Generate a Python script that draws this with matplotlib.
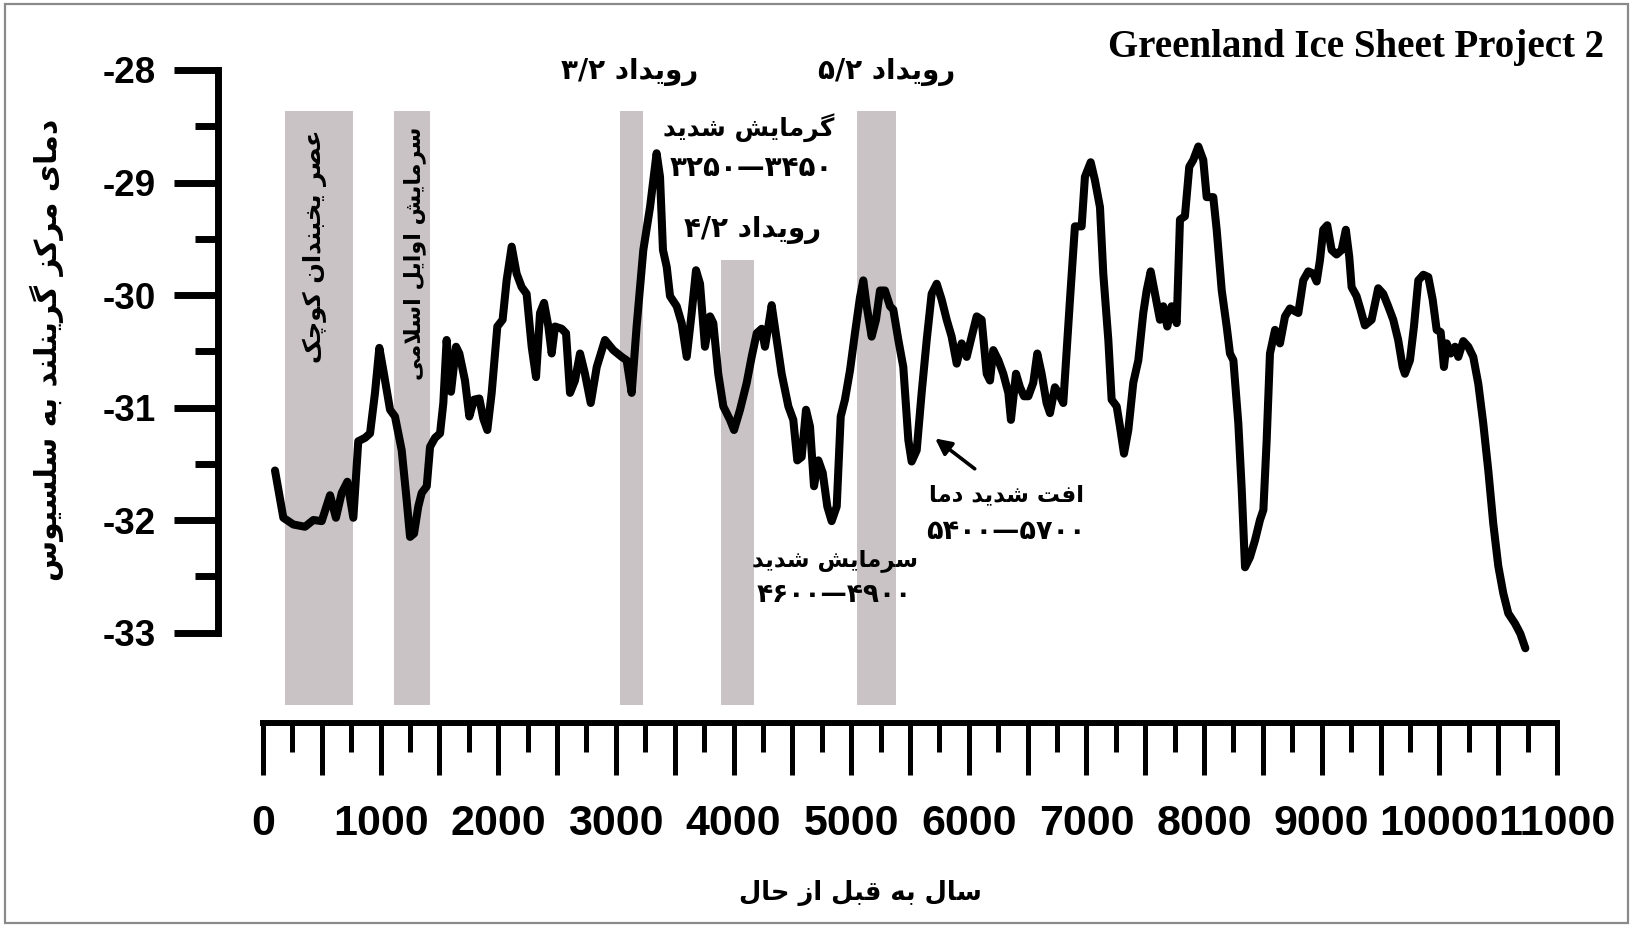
import matplotlib
matplotlib.use("Agg")
import matplotlib.pyplot as plt
from matplotlib.patches import Rectangle

# ---- data (years before present, deg C) ----
years = [102, 173, 258, 357, 428, 499, 570, 620, 669, 717, 768, 810, 867, 910,
         952, 989, 1023, 1080, 1122, 1179, 1221, 1250, 1284, 1320, 1349, 1392,
         1420, 1462, 1505, 1533, 1561, 1598, 1641, 1669, 1717, 1754, 1794, 1839,
         1873, 1907, 1944, 1992, 2037, 2071, 2114, 2156, 2199, 2241, 2284, 2321,
         2355, 2389, 2426, 2454, 2482, 2539, 2576, 2610, 2652, 2695, 2737, 2786,
         2837, 2907, 2978, 3049, 3091, 3134, 3176, 3233, 3290, 3346, 3375, 3400,
         3432, 3460, 3517, 3559, 3602, 3644, 3681, 3715, 3757, 3800, 3828, 3870,
         3913, 3970, 4004, 4055, 4112, 4154, 4197, 4239, 4267, 4296, 4324, 4367,
         4409, 4466, 4508, 4542, 4579, 4616, 4650, 4684, 4721, 4758, 4797, 4834,
         4877, 4911, 4947, 4990, 5032, 5075, 5103, 5132, 5174, 5211, 5245, 5287,
         5330, 5358, 5401, 5443, 5486, 5514, 5557, 5599, 5642, 5684, 5727, 5769,
         5812, 5854, 5897, 5939, 5982, 6024, 6067, 6109, 6152, 6180, 6208, 6251,
         6293, 6336, 6358, 6401, 6435, 6469, 6506, 6548, 6582, 6619, 6661, 6690,
         6732, 6761, 6803, 6860, 6902, 6959, 6987, 7036, 7072, 7115, 7143, 7186,
         7214, 7257, 7285, 7319, 7356, 7398, 7441, 7483, 7512, 7546, 7583, 7625,
         7653, 7687, 7724, 7767, 7795, 7837, 7874, 7908, 7951, 7993, 8022, 8078,
         8107, 8150, 8192, 8220, 8249, 8291, 8320, 8348, 8390, 8433, 8475, 8504,
         8532, 8560, 8603, 8645, 8688, 8730, 8801, 8843, 8886, 8928, 8957, 8985,
         9013, 9047, 9084, 9126, 9169, 9205, 9234, 9254, 9296, 9330, 9367, 9424,
         9480, 9523, 9565, 9608, 9650, 9688, 9707, 9750, 9784, 9821, 9864, 9906,
         9943, 9977, 10011, 10039, 10062, 10096, 10133, 10161, 10203, 10246,
         10288, 10331, 10373, 10416, 10458, 10501, 10543, 10586, 10643, 10688,
         10731]
temps = [-31.56, -31.98, -32.04, -32.06, -32.00, -32.01, -31.78, -31.98, -31.76,
         -31.66, -31.98, -31.30, -31.27, -31.23, -30.87, -30.47, -30.67, -31.02,
         -31.08, -31.38, -31.82, -32.15, -32.12, -31.88, -31.76, -31.70, -31.35,
         -31.27, -31.23, -30.96, -30.40, -30.86, -30.46, -30.52, -30.76, -31.08,
         -30.93, -30.92, -31.10, -31.20, -30.87, -30.28, -30.22, -29.87, -29.57,
         -29.81, -29.93, -29.99, -30.46, -30.73, -30.16, -30.07, -30.28, -30.52,
         -30.28, -30.30, -30.34, -30.87, -30.76, -30.52, -30.70, -30.96, -30.64,
         -30.40, -30.49, -30.55, -30.58, -30.87, -30.28, -29.60, -29.22, -28.74,
         -28.95, -29.60, -29.75, -30.01, -30.10, -30.25, -30.55, -30.16, -29.78,
         -29.90, -30.46, -30.19, -30.25, -30.70, -30.99, -31.11, -31.20, -31.02,
         -30.78, -30.55, -30.34, -30.30, -30.46, -30.28, -30.09, -30.40, -30.70,
         -30.99, -31.11, -31.47, -31.44, -31.02, -31.17, -31.70, -31.47, -31.58,
         -31.88, -32.01, -31.88, -31.08, -30.93, -30.67, -30.34, -30.02, -29.87,
         -30.10, -30.37, -30.22, -29.96, -29.96, -30.10, -30.13, -30.40, -30.64,
         -31.29, -31.48, -31.38, -30.87, -30.40, -29.99, -29.90, -30.04, -30.22,
         -30.37, -30.61, -30.43, -30.55, -30.37, -30.19, -30.22, -30.70, -30.76,
         -30.49, -30.58, -30.70, -30.87, -31.11, -30.70, -30.82, -30.90, -30.90,
         -30.78, -30.52, -30.70, -30.96, -31.05, -30.82, -30.87, -30.96, -30.04,
         -29.39, -29.39, -28.95, -28.82, -28.98, -29.22, -29.81, -30.40, -30.93,
         -30.99, -31.17, -31.41, -31.20, -30.78, -30.58, -30.16, -29.96, -29.79,
         -29.99, -30.22, -30.10, -30.28, -30.10, -30.25, -29.33, -29.30, -28.86,
         -28.80, -28.68, -28.80, -29.13, -29.13, -29.42, -29.96, -30.28, -30.52,
         -30.58, -31.14, -31.73, -32.42, -32.33, -32.18, -32.00, -31.91, -31.29,
         -30.52, -30.31, -30.43, -30.19, -30.12, -30.16, -29.87, -29.79, -29.81,
         -29.88, -29.69, -29.42, -29.38, -29.60, -29.64, -29.60, -29.42, -29.66,
         -29.93, -30.01, -30.13, -30.27, -30.22, -29.94, -29.99, -30.10, -30.22,
         -30.40, -30.64, -30.70, -30.58, -30.28, -29.87, -29.82, -29.84, -30.04,
         -30.31, -30.33, -30.64, -30.43, -30.52, -30.46, -30.55, -30.41, -30.46,
         -30.55, -30.79, -31.14, -31.56, -32.03, -32.41, -32.65, -32.83, -32.92,
         -33.01, -33.14]

# shaded climate events (start, end, top temperature)
band_start = [187, 1114, 3035, 3893, 5049]
band_end = [765, 1420, 3230, 4174, 5381]
band_top = [-28.36, -28.36, -28.36, -29.69, -28.36]
BAND_BOTTOM = -33.64

xtick_pos = list(range(0, 11001, 500))
xtick_labels = [str(v) if v % 1000 == 0 else "" for v in xtick_pos]
ytick_pos = [-33, -32, -31, -30, -29, -28]
ytick_labels = ["-33", "-32", "-31", "-30", "-29", "-28"]

TITLE = "Greenland Ice Sheet Project 2"
YLABEL = "دمای مرکز گرینلند به سلسیوس"
XLABEL = "سال به قبل از حال"

# ---- tiny Persian shaper: matplotlib draws glyphs left to right with no joining ----
FORMS = {
    "ا": ("\uFE8D", "\uFE8E", None, None),
    "ب": ("\uFE8F", "\uFE90", "\uFE91", "\uFE92"),
    "ت": ("\uFE95", "\uFE96", "\uFE97", "\uFE98"),
    "ح": ("\uFEA1", "\uFEA2", "\uFEA3", "\uFEA4"),
    "خ": ("\uFEA5", "\uFEA6", "\uFEA7", "\uFEA8"),
    "د": ("\uFEA9", "\uFEAA", None, None),
    "ر": ("\uFEAD", "\uFEAE", None, None),
    "ز": ("\uFEAF", "\uFEB0", None, None),
    "س": ("\uFEB1", "\uFEB2", "\uFEB3", "\uFEB4"),
    "ش": ("\uFEB5", "\uFEB6", "\uFEB7", "\uFEB8"),
    "ص": ("\uFEB9", "\uFEBA", "\uFEBB", "\uFEBC"),
    "ع": ("\uFEC9", "\uFECA", "\uFECB", "\uFECC"),
    "ف": ("\uFED1", "\uFED2", "\uFED3", "\uFED4"),
    "ق": ("\uFED5", "\uFED6", "\uFED7", "\uFED8"),
    "ل": ("\uFEDD", "\uFEDE", "\uFEDF", "\uFEE0"),
    "م": ("\uFEE1", "\uFEE2", "\uFEE3", "\uFEE4"),
    "ن": ("\uFEE5", "\uFEE6", "\uFEE7", "\uFEE8"),
    "ه": ("\uFEE9", "\uFEEA", "\uFEEB", "\uFEEC"),
    "و": ("\uFEED", "\uFEEE", None, None),
    "ی": ("\uFBFC", "\uFBFD", "\uFBFE", "\uFBFF"),
    "ک": ("\uFB8E", "\uFB8F", "\uFB90", "\uFB91"),
    "گ": ("\uFB92", "\uFB93", "\uFB94", "\uFB95"),
    "چ": ("\uFB7A", "\uFB7B", "\uFB7C", "\uFB7D"),
}


def fa(text):
    out = []
    i = 0
    while i < len(text):
        c = text[i]
        if c not in FORMS:
            out.append(c)
            i += 1
            continue
        prev = text[i - 1] if i > 0 else None
        joins_prev = prev in FORMS and FORMS[prev][2] is not None
        if c == "ل" and i + 1 < len(text) and text[i + 1] == "ا":
            out.append("\uFEFC" if joins_prev else "\uFEFB")
            i += 2
            continue
        nxt = text[i + 1] if i + 1 < len(text) else None
        joins_next = FORMS[c][2] is not None and nxt in FORMS
        iso, fin, ini, med = FORMS[c]
        if joins_prev and joins_next:
            out.append(med)
        elif joins_prev:
            out.append(fin)
        elif joins_next:
            out.append(ini)
        else:
            out.append(iso)
        i += 1
    return "".join(reversed(out))


FA_FONT = ["DejaVu Sans"]
NUM_FONT = ["Liberation Sans", "DejaVu Sans"]

fig = plt.figure(figsize=(16.33, 9.27), dpi=100)
fig.patch.set_facecolor("white")

# axes box: x spans from the y-spine (-382.5 yr) to 11000 yr, y from -33.80 to -28
ax = fig.add_axes([218 / 1633, 204 / 927, 1339 / 1633, 653 / 927])
ax.set_xlim(-382.5, 11000)
ax.set_ylim(-33.8044, -28)
ax.patch.set_alpha(0)

for s, e, t in zip(band_start, band_end, band_top):
    ax.fill_between([s, e], BAND_BOTTOM, t, color="#c9c3c5", lw=0, zorder=1)

ax.plot(years, temps, color="black", lw=5.8, solid_joinstyle="round",
        solid_capstyle="round", zorder=3)

# axes styling
for side in ("top", "right"):
    ax.spines[side].set_visible(False)
ax.spines["left"].set_bounds(-33, -28)
ax.spines["left"].set_linewidth(5)
ax.spines["bottom"].set_bounds(0, 11000)
ax.spines["bottom"].set_linewidth(4.3)

ax.set_yticks(ytick_pos)
ax.set_yticklabels(ytick_labels, fontsize=26.5, fontweight="bold", family=NUM_FONT)
ax.set_yticks([-32.5, -31.5, -30.5, -29.5, -28.5], minor=True)
ax.tick_params(axis="y", which="major", direction="out", length=32, width=5, pad=13)
ax.tick_params(axis="y", which="minor", direction="out", length=16.5, width=5)

ax.set_xticks(xtick_pos)
ax.set_xticklabels(xtick_labels, fontsize=31, fontweight="bold", family=NUM_FONT)
ax.set_xticks(list(range(250, 11000, 500)), minor=True)
ax.tick_params(axis="x", which="major", direction="out", length=37.5, width=3.6, pad=21)
ax.tick_params(axis="x", which="minor", direction="out", length=21, width=3.6)

# event labels
ann = dict(ha="center", va="center", fontweight="bold", family=FA_FONT, zorder=4)
ax.text(3120, -28.02, "۳/۲ " + fa("رویداد"), fontsize=20, **ann)
ax.text(5300, -28.02, "۵/۲ " + fa("رویداد"), fontsize=20, **ann)
ax.text(4131, -28.51, fa("گرمایش شدید"), fontsize=18, **ann)
ax.text(4152, -28.87, "۳۲۵۰—۳۴۵۰", fontsize=20, **ann)
ax.text(4161, -29.42, "۴/۲ " + fa("رویداد"), fontsize=20, **ann)
ax.text(4862, -32.36, fa("سرمایش شدید"), fontsize=16.5, **ann)
ax.text(4854, -32.67, "۴۶۰۰—۴۹۰۰", fontsize=19, **ann)
ax.text(6320, -31.78, fa("افت شدید دما"), fontsize=16.5, **ann)
ax.text(6316, -32.11, "۵۴۰۰—۵۷۰۰", fontsize=19.5, **ann)
ax.text(442, -29.57, fa("عصر یخبندان کوچک"), fontsize=17.5, rotation=90, **ann)
ax.text(1292, -29.63, fa("سرمایش اوایل اسلامی"), fontsize=16, rotation=90, **ann)

ax.annotate("", xy=(5695, -31.26), xytext=(6069, -31.56),
            arrowprops=dict(arrowstyle="-|>", color="black", lw=2.6,
                            mutation_scale=24), zorder=4)

fig.text(1604 / 1633, 1 - 47 / 927, TITLE, ha="right", va="center",
         fontsize=28, fontweight="bold", family=["Liberation Serif", "DejaVu Serif"])
fig.text(47 / 1633, 1 - 350 / 927, fa(YLABEL), ha="center", va="center",
         rotation=90, fontsize=21.5, fontweight="bold", family=FA_FONT)
fig.text(860 / 1633, 1 - 893 / 927, fa(XLABEL), ha="center", va="center",
         fontsize=18.5, fontweight="bold", family=FA_FONT)

# thin grey frame around the whole picture
fig.patches.append(Rectangle((0.003, 0.004), 0.994, 0.992, transform=fig.transFigure,
                             fill=False, edgecolor="#8a8a8a", lw=1.6))

fig.savefig("out.png", dpi=100, facecolor="white")
